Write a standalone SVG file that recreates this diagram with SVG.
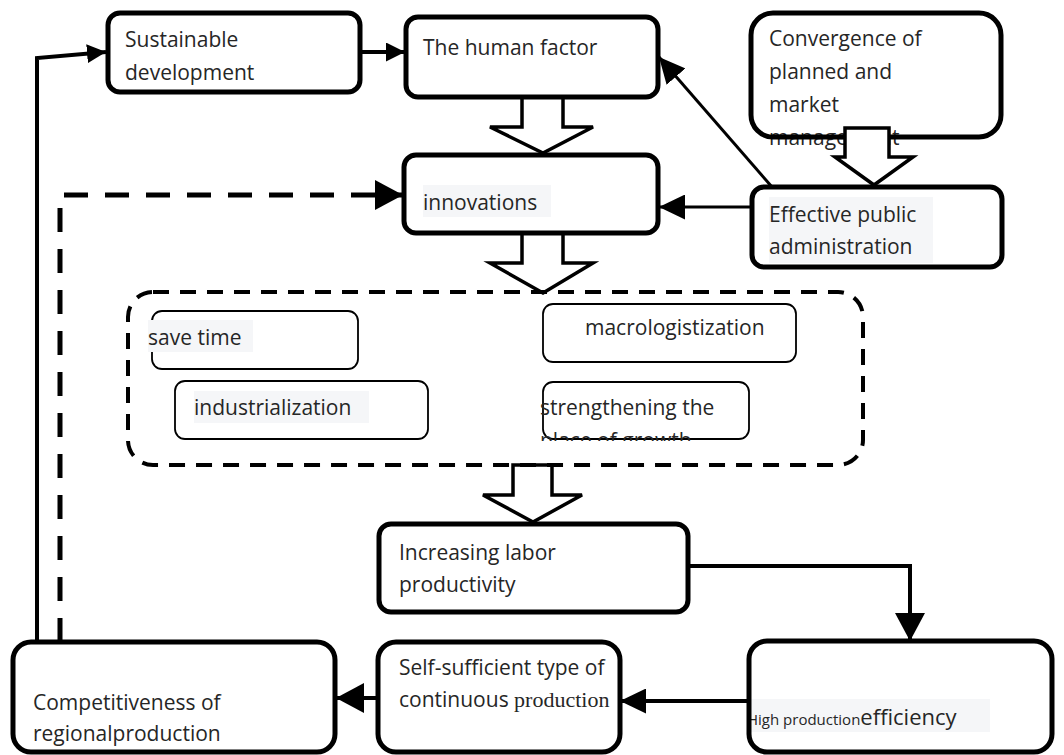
<svg xmlns="http://www.w3.org/2000/svg" width="1064" height="755" viewBox="0 0 1064 755">
<defs>
<style>
.box{fill:#fff;stroke:#000;stroke-width:5}
.edge{fill:none;stroke:#000;stroke-width:5}
.small{fill:#fff;stroke:#000;stroke-width:1.8}
.blk{fill:#fff;stroke:#000;stroke-width:3.5;stroke-linejoin:miter}
.t{font-family:"Open Sans","Liberation Sans",sans-serif;font-size:21px;fill:#262626}
.hl{fill:#f5f6f8}
.ln{fill:none;stroke:#000;stroke-width:4}
.thin{fill:none;stroke:#000;stroke-width:3}
.dash{fill:none;stroke:#000;stroke-width:5;stroke-dasharray:24 17}
</style>
<marker id="arrS" viewBox="0 0 10 10" refX="10" refY="5" markerUnits="userSpaceOnUse" markerWidth="19" markerHeight="19" orient="auto" preserveAspectRatio="none"><path d="M0,0L10,5L0,10z" fill="#000"/></marker>
<marker id="arrM" viewBox="0 0 10 10" refX="10" refY="5" markerUnits="userSpaceOnUse" markerWidth="26" markerHeight="25" orient="auto" preserveAspectRatio="none"><path d="M0,0L10,5L0,10z" fill="#000"/></marker>
<marker id="arrL" viewBox="0 0 10 10" refX="10" refY="5" markerUnits="userSpaceOnUse" markerWidth="28" markerHeight="30" orient="auto" preserveAspectRatio="none"><path d="M0,0L10,5L0,10z" fill="#000"/></marker>
<clipPath id="clipStr"><rect x="530" y="370" width="240" height="71"/></clipPath>
</defs>
<rect width="1064" height="755" fill="#fff"/>

<g id="connectors">
<polyline class="ln" points="37,642 37,58 106,52" marker-end="url(#arrS)"/>
<polyline class="dash" points="60,642 60,195 403,195" marker-end="url(#arrL)"/>
<line class="ln" x1="360" y1="52" x2="405" y2="52" marker-end="url(#arrS)"/>
<line class="thin" x1="772" y1="187" x2="659" y2="57" marker-end="url(#arrM)"/>
<line class="thin" x1="752" y1="207" x2="659" y2="207" marker-end="url(#arrM)"/>
<polyline class="ln" points="688,566 910,566 910,641" marker-end="url(#arrL)"/>
<line class="ln" x1="749" y1="701" x2="620" y2="701" marker-end="url(#arrM)"/>
<line class="ln" x1="378" y1="698" x2="336" y2="698" marker-end="url(#arrL)"/>
<polygon class="blk" points="522,97 522,127 490,127 543,153 593,127 563,127 563,97"/>
<polygon class="blk" points="522,233 522,263 490,263 543,293 593,263 563,263 563,233"/>
<polygon class="blk" points="513,465 513,495 483,495 533,522 582,495 552,495 552,465"/>
</g>

<g id="sustainable">
<rect class="box" x="108" y="13" width="252" height="79" rx="12"/>
<text class="t" x="125" y="47">Sustainable</text>
<text class="t" x="125" y="80">development</text>
</g>

<g id="human">
<rect class="box" x="406" y="17" width="252" height="80" rx="12"/>
<text class="t" x="423" y="55">The human factor</text>
</g>

<g id="convergence">
<rect x="751" y="13" width="250" height="124" rx="22" fill="#fff"/>
<text class="t" x="769" y="46">Convergence of</text>
<text class="t" x="769" y="79">planned and</text>
<text class="t" x="769" y="112">market</text>
<text class="t" x="769" y="145">management</text>
<rect class="edge" x="751" y="13" width="250" height="124" rx="22"/>
</g>

<g id="innovations">
<rect class="box" x="404" y="155" width="254" height="78" rx="12"/>
<rect class="hl" x="423" y="185" width="128" height="32"/>
<text class="t" x="423" y="210">innovations</text>
</g>

<g id="effective">
<rect class="box" x="752" y="187" width="250" height="80" rx="12"/>
<rect class="hl" x="769" y="197" width="164" height="66"/>
<text class="t" x="769" y="222">Effective public</text>
<text class="t" x="769" y="254">administration</text>
</g>

<polygon class="blk" points="845,128 845,157 835,157 874,185 913,157 889,157 889,128"/>

<g id="factors">
<rect x="128" y="292" width="735" height="173" rx="25" fill="none" stroke="#000" stroke-width="4" stroke-dasharray="16 11"/>
<g id="save-time">
<rect class="small" x="152" y="311" width="206" height="58" rx="10"/>
<rect class="hl" x="148" y="320" width="105" height="32"/>
<text class="t" x="148" y="345">save time</text>
</g>
<g id="industrialization">
<rect class="small" x="175" y="381" width="253" height="58" rx="10"/>
<rect class="hl" x="194" y="391" width="175" height="32"/>
<text class="t" x="194" y="415">industrialization</text>
</g>
<g id="macrologistization">
<rect class="small" x="543" y="304" width="253" height="58" rx="10"/>
<text class="t" x="585" y="335">macrologistization</text>
</g>
<g id="strengthening">
<rect class="small" x="543" y="382" width="206" height="57" rx="10"/>
<g clip-path="url(#clipStr)">
<text class="t" x="540" y="415">strengthening the</text>
<text class="t" x="540" y="448">place of growth</text>
</g>
</g>
</g>

<g id="increasing">
<rect class="box" x="379" y="524" width="309" height="88" rx="12"/>
<text class="t" x="399" y="560">Increasing labor</text>
<text class="t" x="399" y="592">productivity</text>
</g>

<g id="competitiveness">
<rect class="box" x="13" y="642" width="322" height="110" rx="18"/>
<text class="t" x="33" y="710">Competitiveness of</text>
<text class="t" x="33" y="741">regionalproduction</text>
</g>

<g id="self-sufficient">
<rect class="box" x="378" y="642" width="242" height="110" rx="18"/>
<text class="t" x="399" y="675">Self-sufficient type of</text>
<text class="t" x="399" y="707">continuous <tspan font-family="Liberation Serif,serif" font-size="22">production</tspan></text>
</g>

<g id="high">
<rect x="749" y="641" width="303" height="111" rx="18" fill="#fff"/>
<rect class="hl" x="751" y="699" width="239" height="33"/>
<text class="t" x="747" y="725"><tspan font-family="Open Sans,sans-serif" font-size="15">High production</tspan><tspan font-family="Open Sans,sans-serif" font-size="22">efficiency</tspan></text>
<rect class="edge" x="749" y="641" width="303" height="111" rx="18"/>
</g>
</svg>
